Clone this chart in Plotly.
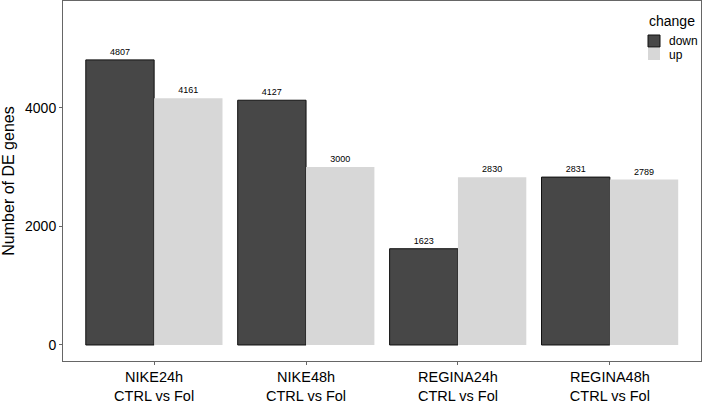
import plotly.graph_objects as go

categories = ["NIKE24h<br>CTRL vs Fol", "NIKE48h<br>CTRL vs Fol",
              "REGINA24h<br>CTRL vs Fol", "REGINA48h<br>CTRL vs Fol"]
down_values = [4807, 4127, 1623, 2831]
up_values = [4161, 3000, 2830, 2789]
tick_vals = [0, 2000, 4000]
tick_text = ["0", "2000", "4000"]
series_names = ["down", "up"]
series_colors = ["#474747", "#D7D7D7"]

x_idx = [1, 2, 3, 4]

W, H = 708, 403
ML, MR, MT, MB = 63, 7, 1, 42
PW, PH = W - ML - MR, H - MT - MB


def px_x(p):
    return (p - ML) / PW


def px_y(p):
    return (H - MB - p) / PH


fig = go.Figure()
fig.add_trace(go.Bar(
    x=x_idx, y=down_values, name=series_names[0],
    marker=dict(color=series_colors[0], line=dict(color="#111111", width=1)),
    text=[str(v) for v in down_values], textposition="outside",
    textfont=dict(size=9, color="black", family="Liberation Sans"),
    cliponaxis=False,
))
fig.add_trace(go.Bar(
    x=x_idx, y=up_values, name=series_names[1],
    marker=dict(color=series_colors[1], line=dict(color=series_colors[1], width=0)),
    text=[str(v) for v in up_values], textposition="outside",
    textfont=dict(size=9, color="black", family="Liberation Sans"),
    cliponaxis=False,
))

# manual legend (ggplot-style, inside panel)
shapes = [
    dict(type="rect", xref="paper", yref="paper",
         x0=px_x(648), x1=px_x(660), y0=px_y(47), y1=px_y(35),
         fillcolor=series_colors[0], line=dict(color="#111111", width=1)),
    dict(type="rect", xref="paper", yref="paper",
         x0=px_x(648), x1=px_x(660), y0=px_y(60), y1=px_y(48),
         fillcolor=series_colors[1], line=dict(width=0)),
]
annotations = [
    dict(text="change", xref="paper", yref="paper", x=px_x(647), y=px_y(21),
         xanchor="left", yanchor="middle", showarrow=False,
         font=dict(size=14, color="black")),
    dict(text=series_names[0], xref="paper", yref="paper", x=px_x(667), y=px_y(41),
         xanchor="left", yanchor="middle", showarrow=False,
         font=dict(size=12, color="black")),
    dict(text=series_names[1], xref="paper", yref="paper", x=px_x(667), y=px_y(55),
         xanchor="left", yanchor="middle", showarrow=False,
         font=dict(size=12, color="black")),
]

fig.update_layout(
    width=W, height=H,
    margin=dict(l=ML, r=MR, t=MT, b=MB, autoexpand=False),
    paper_bgcolor="white", plot_bgcolor="white",
    barmode="group", bargap=0.1, bargroupgap=0,
    font=dict(family="Liberation Sans", color="black"),
    showlegend=False,
    shapes=shapes,
    annotations=annotations,
    uniformtext=dict(minsize=8, mode="show"),
)
fig.update_xaxes(
    range=[0.4, 4.6], tickvals=x_idx, ticktext=categories,
    showgrid=False, zeroline=False, automargin=False,
    showline=True, linecolor="#666666", linewidth=1, mirror=True,
    ticks="outside", ticklen=3, tickcolor="#666666",
    tickfont=dict(size=14.5, color="black"),
)
fig.update_yaxes(
    range=[-270, 5800], tickvals=tick_vals, ticktext=tick_text,
    showgrid=False, zeroline=False, automargin=False,
    showline=True, linecolor="#666666", linewidth=1, mirror=True,
    ticks="outside", ticklen=3, tickcolor="#666666",
    tickfont=dict(size=14, color="black"),
    title=dict(text="Number of DE genes", font=dict(size=16, color="black"), standoff=8),
)

fig.write_html("out.html", config={"displayModeBar": False},
               post_script="document.body.style.margin='0';document.body.style.overflow='hidden';")
